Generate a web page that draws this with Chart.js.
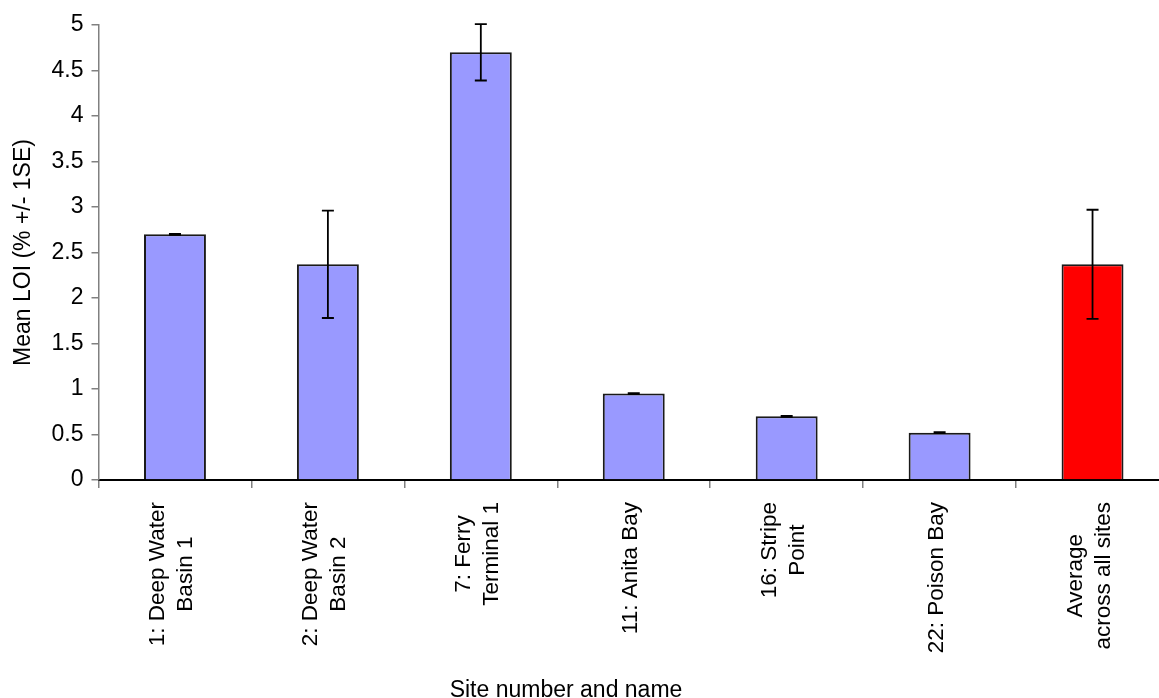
<!DOCTYPE html>
<html>
<head>
<meta charset="utf-8">
<script src="https://cdn.jsdelivr.net/npm/chart.js@4.4.1/dist/chart.umd.min.js"></script>
<style>
html, body { margin: 0; padding: 0; background: #fff; overflow: hidden; }
#wrap { width: 1175px; height: 698px; }
</style>
</head>
<body>
<div id="wrap"><canvas id="chart" width="1175" height="698"></canvas></div>
<script>
// site labels (one entry per line of the rotated label)
const sites = [
  ["1: Deep Water", "Basin 1"],
  ["2: Deep Water", "Basin 2"],
  ["7: Ferry", "Terminal 1"],
  ["11: Anita Bay"],
  ["16: Stripe", "Point"],
  ["22: Poison Bay"],
  ["Average", "across all sites"]
];

// mean LOI (%) and +/- 1 SE
const meanLOI = [2.70, 2.37, 4.70, 0.95, 0.70, 0.52, 2.37];
const seLOI = [0.005, 0.59, 0.31, 0.005, 0.005, 0.005, 0.60];

const barColors = ["#9999ff", "#9999ff", "#9999ff", "#9999ff", "#9999ff", "#9999ff", "#ff0000"];

const xTitle = "Site number and name";
const yTitle = "Mean LOI (% +/- 1SE)";

const FONT = '"Liberation Sans", Arial, sans-serif';

const errorBars = {
  id: "errorBars",
  afterDatasetsDraw(chart) {
    const c = chart.ctx;
    const y = chart.scales.y;
    const meta = chart.getDatasetMeta(0);
    c.save();
    c.strokeStyle = "#000";
    c.lineWidth = 1.8;
    meta.data.forEach((bar, i) => {
      const top = y.getPixelForValue(meanLOI[i] + seLOI[i]);
      const bot = y.getPixelForValue(meanLOI[i] - seLOI[i]);
      c.beginPath();
      c.moveTo(bar.x, top); c.lineTo(bar.x, bot);
      c.moveTo(bar.x - 6, top); c.lineTo(bar.x + 6, top);
      c.moveTo(bar.x - 6, bot); c.lineTo(bar.x + 6, bot);
      c.stroke();
    });
    c.restore();
  }
};

// rotated labels, lines centred on each other, plus the x title
const siteLabels = {
  id: "siteLabels",
  afterDraw(chart) {
    const c = chart.ctx;
    const xs = chart.scales.x;
    c.save();
    c.font = "22.5px " + FONT;
    c.fillStyle = "#000";
    c.textAlign = "center";
    c.textBaseline = "middle";
    sites.forEach((lines, i) => {
      const cx = xs.getPixelForValue(i) - 3;
      const w = Math.max(...lines.map(l => c.measureText(l).width));
      const cy = xs.top + 22 + w / 2;
      lines.forEach((l, j) => {
        c.save();
        c.translate(cx + (j - (lines.length - 1) / 2) * 28, cy);
        c.rotate(-Math.PI / 2);
        c.fillText(l, 0, 0);
        c.restore();
      });
    });
    c.font = "23px " + FONT;
    c.textBaseline = "alphabetic";
    c.fillText(xTitle, 566, 697);
    c.restore();
  }
};

const ctx = document.getElementById("chart");

const chart = new Chart(ctx, {
  type: "bar",
  data: {
    labels: sites,
    datasets: [{
      data: meanLOI,
      backgroundColor: barColors,
      borderColor: "#1a1a1a",
      borderWidth: 2,
      barPercentage: 0.405,
      categoryPercentage: 1
    }]
  },
  options: {
    responsive: false,
    animation: false,
    layout: { padding: { top: 25, right: 6, left: 0, bottom: 0 } },
    plugins: {
      legend: { display: false },
      tooltip: { enabled: false }
    },
    scales: {
      x: {
        ticks: { display: false },
        grid: { drawOnChartArea: false, drawTicks: true, tickLength: 8, color: "#808080", lineWidth: 1.5 },
        border: { color: "#000", width: 2 },
        afterFit(s) { s.height = 218; }
      },
      y: {
        min: 0,
        max: 5,
        ticks: {
          stepSize: 0.5,
          color: "#000",
          font: { family: FONT, size: 23 },
          padding: 8,
          callback: v => String(v)
        },
        grid: { drawOnChartArea: false, drawTicks: true, tickLength: 7, color: "#808080", lineWidth: 1.5 },
        border: { color: "#808080", width: 1.5 },
        title: { display: true, text: yTitle, color: "#000", font: { family: FONT, size: 23 }, padding: { top: 10, bottom: 0 } },
        afterFit(s) { s.width = 98.5; }
      }
    }
  },
  plugins: [errorBars, siteLabels]
});
</script>
</body>
</html>
